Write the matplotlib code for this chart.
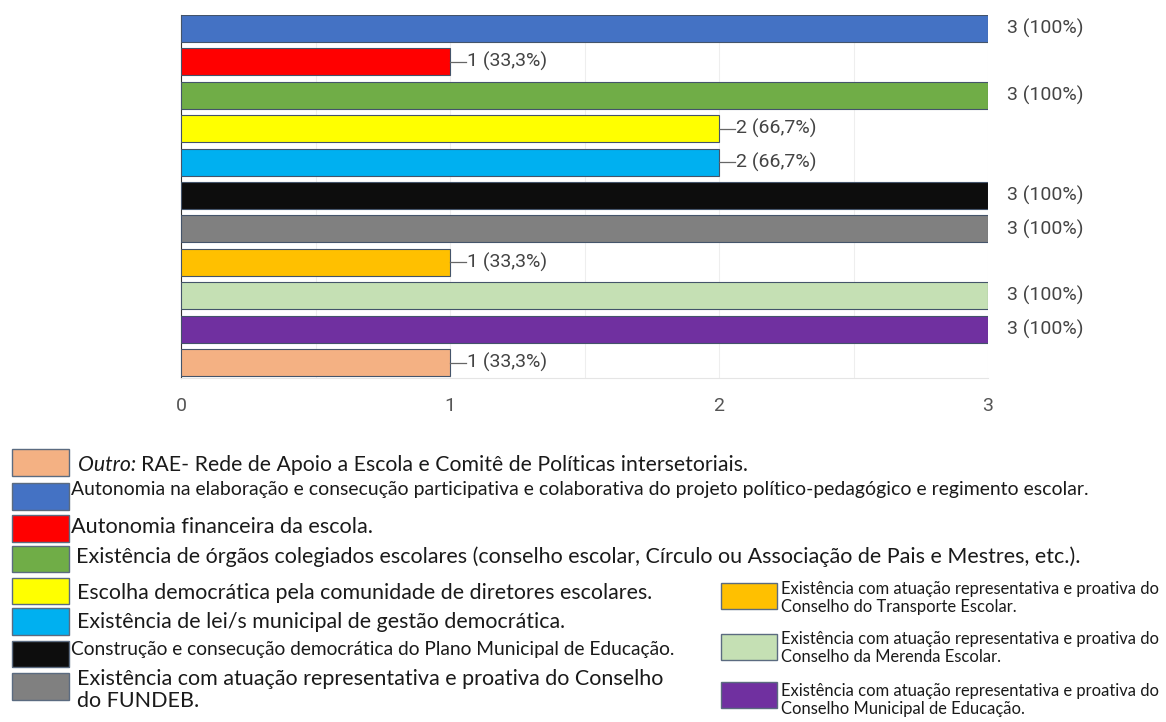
import matplotlib
matplotlib.use("Agg")
import matplotlib.pyplot as plt
from matplotlib.patches import Rectangle

# data (top to bottom as drawn)
values = [3, 1, 3, 2, 2, 3, 3, 1, 3, 3, 1]
pct = ["100%", "33,3%", "100%", "66,7%", "66,7%", "100%", "100%", "33,3%", "100%", "100%", "33,3%"]
colors = ["#4472C4", "#FF0000", "#70AD47", "#FFFF00", "#00B0F0", "#0D0D0D",
          "#808080", "#FFC000", "#C5E0B4", "#7030A0", "#F4B183"]
ticks = [0, 1, 2, 3]

legend_left = [
    ("#F4B183", "RAE- Rede de Apoio a Escola e Comitê de Políticas intersetoriais."),
    ("#4472C4", "Autonomia na elaboração e consecução participativa e colaborativa do projeto político-pedagógico e regimento escolar."),
    ("#FF0000", "Autonomia financeira da escola."),
    ("#70AD47", "Existência de órgãos colegiados escolares (conselho escolar, Círculo ou Associação de Pais e Mestres, etc.)."),
    ("#FFFF00", "Escolha democrática pela comunidade de diretores escolares."),
    ("#00B0F0", "Existência de lei/s municipal de gestão democrática."),
    ("#0D0D0D", "Construção e consecução democrática do Plano Municipal de Educação."),
    ("#808080", "Existência com atuação representativa e proativa do Conselho\ndo FUNDEB."),
]
legend_right = [
    ("#FFC000", "Existência com atuação representativa e proativa do\nConselho do Transporte Escolar."),
    ("#C5E0B4", "Existência com atuação representativa e proativa do\nConselho da Merenda Escolar."),
    ("#7030A0", "Existência com atuação representativa e proativa do\nConselho Municipal de Educação."),
]

W, H = 1166, 722
fig = plt.figure(figsize=(W / 100, H / 100), dpi=100)
ax = fig.add_axes([181 / W, 1 - 378 / H, (988 - 181) / W, (378 - 15) / H])

y = list(range(len(values)))
ax.barh(y, values, height=0.81, color=colors, edgecolor="#44546A", linewidth=0.8, zorder=3)
ax.set_xlim(0, 3)
ax.set_ylim(10.46, -0.4)
ax.set_xticks(ticks)
ax.set_xticks([0.5, 1.5, 2.5], minor=True)
ax.tick_params(axis="x", which="both", length=0, pad=14, labelsize=14, labelcolor="#555555")
ax.set_xticklabels([str(t) for t in ticks], family="Roboto")
ax.set_yticks([])
ax.grid(axis="x", which="both", color="#EEEEEE", linewidth=0.8, zorder=0)
for s in ["top", "right"]:
    ax.spines[s].set_visible(False)
ax.spines["left"].set_color("#333333")
ax.spines["bottom"].set_color("#E5E5E5")

for i, (v, p) in enumerate(zip(values, pct)):
    label = f"{v} ({p})"
    if v < 3:
        ax.plot([v, v + 0.058], [i, i], color="#666666", lw=0.9, clip_on=False, zorder=4)
        ax.text(v + 0.062, i, label, va="center", ha="left", fontsize=14,
                color="#444444", family="Roboto")
    else:
        ax.text(v + 0.07, i, label, va="center", ha="left", fontsize=14,
                color="#444444", family="Roboto", clip_on=False)

fig.canvas.draw()
renderer = fig.canvas.get_renderer()


def fit_size(prefix, width, style="normal"):
    # font size at which `prefix` spans `width` pixels
    probe = fig.text(0, 0, prefix, fontsize=12, family="Lato", style=style)
    w = probe.get_window_extent(renderer).width
    probe.remove()
    return 12 * width / w


def put_text(x, yc, s, size, style="normal"):
    return fig.text(x / W, 1 - yc / H, s, fontsize=size, family="Lato", style=style,
                    color="#1a1a1a", va="center", ha="left", linespacing=1.15)


def swatch(x0, y0, x1, y1, c):
    fig.patches.append(Rectangle((x0 / W, 1 - y1 / H), (x1 - x0) / W, (y1 - y0) / H,
                                 transform=fig.transFigure, facecolor=c,
                                 edgecolor="#5B6B80", linewidth=1.0))


# left legend: swatch top/bottom, text centre, text x, fitting prefix and its width
sw_y = [(449, 476), (483, 510), (515, 542), (546, 572), (578, 604), (608, 635), (641, 667), (673, 700)]
txt_y = [465, 490, 527, 557, 593, 622, 649, 690]
txt_x = [78, 71, 71, 76, 77, 77, 71, 77]
fits = [
    ("Outro: RAE- Rede de Apoio a Escola e Comitê de Políticas intersetoriais.", 672),
    ("Autonomia na elaboração e consecução participativa e colaborativa do projeto políti", 709),
    ("Autonomia financeira da escola.", 301),
    ("Existência de órgãos colegiados escolares (conselho escolar, Círculo ou Ass", 704),
    ("Escolha democrática pela comuni", 311),
    ("Existência de lei/s municipal de g", 309),
    ("Construção e consecução democrátic", 313),
    ("Existência com atuação represen", 308),
]
for k, ((c, s), (y0, y1), yc, x, (pre, w)) in enumerate(zip(legend_left, sw_y, txt_y, txt_x, fits)):
    swatch(12, y0, 69, y1, c)
    size = fit_size(pre, w)
    if k == 0:
        lead = put_text(x, yc, "Outro: ", size, style="italic")
        lw = lead.get_window_extent(renderer).width
        put_text(x + lw, yc, s, size)
    else:
        put_text(x, yc, s, size)

# right legend
sw_r = [(583, 609), (634, 660), (682, 708)]
txt_r = [598, 648, 700]
size_r = fit_size("Existência com atuação representativa e proativa do", 377)
for (c, s), (y0, y1), yc in zip(legend_right, sw_r, txt_r):
    swatch(721, y0, 777, y1, c)
    put_text(781, yc, s, size_r)

fig.savefig("out.png", dpi=100, facecolor="white")
